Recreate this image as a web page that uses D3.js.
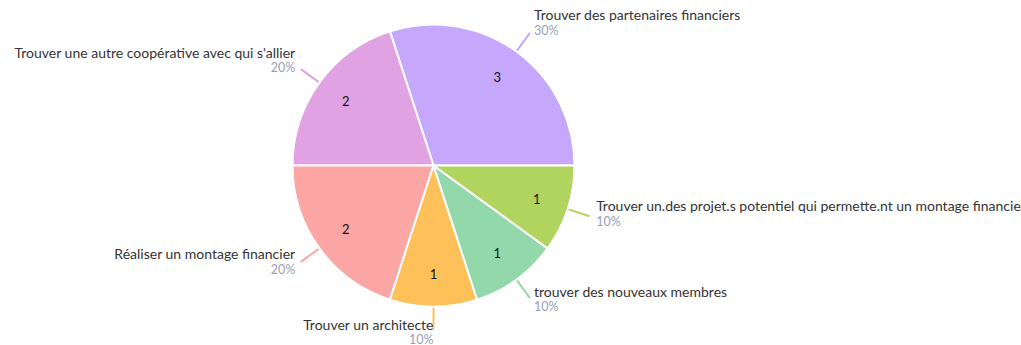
<!DOCTYPE html>
<html>
<head>
<meta charset="utf-8">
<script src="https://cdn.jsdelivr.net/npm/d3@7"></script>
<style>
  html, body { margin: 0; padding: 0; background: #fff; overflow: hidden; }
  svg { display: block; }
</style>
</head>
<body>
<svg id="chart" width="1021" height="345"></svg>
<script>
// Answers and their counts, listed counter-clockwise from 3 o'clock
const categories = [
  "Trouver des partenaires financiers",
  "Trouver une autre coopérative avec qui s'allier",
  "Réaliser un montage financier",
  "Trouver un architecte",
  "trouver des nouveaux membres",
  "Trouver un.des projet.s potentiel qui permette.nt un montage financier"
];
const counts = [3, 2, 2, 1, 1, 1];
const colors = ["#c5a8fc", "#e0a2e2", "#fba5a5", "#fec15a", "#93d8ab", "#b1d45f"];

const width = 1021, height = 345;
const cx = 433.5, cy = 165.5, radius = 141;

const svg = d3.select("#chart");
const g = svg.append("g").attr("transform", `translate(${cx},${cy})`);

const total = d3.sum(counts);
const pie = d3.pie()
  .sort(null)
  .value(d => d.count)
  .startAngle(Math.PI / 2)
  .endAngle(Math.PI / 2 - 2 * Math.PI);

const data = categories.map((c, i) => ({ name: c, count: counts[i], color: colors[i] }));
const arcs = pie(data);

const arc = d3.arc().innerRadius(0).outerRadius(radius);
const valueArc = d3.arc().innerRadius(radius * 0.77).outerRadius(radius * 0.77);

g.selectAll("path.slice")
  .data(arcs)
  .join("path")
  .attr("class", "slice")
  .attr("d", arc)
  .attr("fill", d => d.data.color)
  .attr("stroke", "#fff")
  .attr("stroke-width", 2)
  .attr("stroke-linejoin", "round");

// count inside each slice
g.selectAll("text.value")
  .data(arcs)
  .join("text")
  .attr("class", "value")
  .attr("transform", d => `translate(${valueArc.centroid(d)})`)
  .attr("text-anchor", "middle")
  .attr("dy", "0.35em")
  .attr("font-family", "Lato, sans-serif")
  .attr("font-size", 13)
  .attr("fill", "#111")
  .text(d => d.data.count);

// leader lines and outside labels
const mid = d => (d.startAngle + d.endAngle) / 2;
const polar = (a, r) => [Math.sin(a) * r, -Math.cos(a) * r];
const fmt = d3.format(".0%");

g.selectAll("line.leader")
  .data(arcs)
  .join("line")
  .attr("class", "leader")
  .each(function (d) {
    const a = mid(d);
    const [x1, y1] = polar(a, radius + 1);
    const [x2, y2] = polar(a, radius + 23);
    d3.select(this).attr("x1", x1).attr("y1", y1).attr("x2", x2).attr("y2", y2);
  })
  .attr("stroke", d => d.data.color)
  .attr("stroke-width", 2);

const labels = g.selectAll("g.label")
  .data(arcs)
  .join("g")
  .attr("class", "label")
  .attr("transform", d => {
    const [x, y] = polar(mid(d), radius + 30);
    return `translate(${x},${y})`;
  })
  .attr("text-anchor", d => Math.sin(mid(d)) > 1e-6 ? "start" : "end")
  .attr("font-family", "Lato, sans-serif");

labels.append("text")
  .attr("y", -7)
  .attr("font-size", 14)
  .attr("fill", "#333")
  .text(d => d.data.name);

labels.append("text")
  .attr("y", 7.5)
  .attr("font-size", 12.5)
  .attr("fill", "#9aa0b3")
  .text(d => fmt(d.data.count / total));
</script>
</body>
</html>
